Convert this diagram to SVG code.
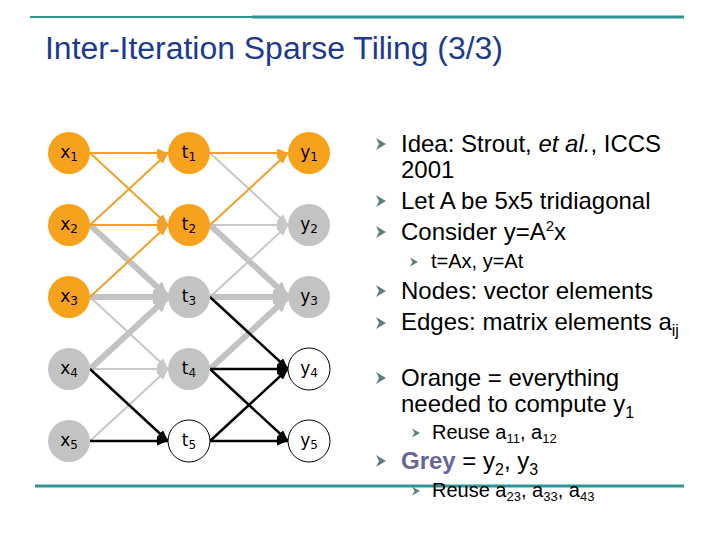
<svg xmlns="http://www.w3.org/2000/svg" xmlns:xlink="http://www.w3.org/1999/xlink" width="720" height="540" viewBox="0 0 720 540">
<style>
.rule{stroke:#2E9393;fill:none}
.title{font-family:"Liberation Sans",Arial,sans-serif;font-size:31px;fill:#1E3A8F}
.b{font-family:"Liberation Sans",Arial,sans-serif;font-size:24px;fill:#000}
.s{font-family:"Liberation Sans",Arial,sans-serif;font-size:20px;fill:#000}
.nl{font-family:"DejaVu Sans",Verdana,sans-serif;font-size:17px;fill:#000;text-anchor:middle}
.or{fill:#F7A21C}
.gr{fill:#C3C3C3}
.wh{fill:#FFF;stroke:#000;stroke-width:1}
.eo{stroke:#F2A02A;stroke-width:2;fill:none;marker-end:url(#ao)}
.eg{stroke:#C8C8C8;stroke-width:2;fill:none;marker-end:url(#ag)}
.eG{stroke:#C3C3C3;stroke-width:6;fill:none;marker-end:url(#aG)}
.ek{stroke:#000;stroke-width:2.5;fill:none;marker-end:url(#ak)}
.bul{fill:#5E7F7F}
</style>
<defs>
<marker id="ao" markerUnits="userSpaceOnUse" markerWidth="11" markerHeight="9" refX="11" refY="4.5" orient="auto"><path d="M0,0 L11,4.5 L0,9 z" fill="#F2A02A"/></marker>
<marker id="ag" markerUnits="userSpaceOnUse" markerWidth="11" markerHeight="9" refX="11" refY="4.5" orient="auto"><path d="M0,0 L11,4.5 L0,9 z" fill="#C8C8C8"/></marker>
<marker id="aG" markerUnits="userSpaceOnUse" markerWidth="15" markerHeight="15" refX="15" refY="7.5" orient="auto"><path d="M0,0 L15,7.5 L0,15 z" fill="#C3C3C3"/></marker>
<marker id="ak" markerUnits="userSpaceOnUse" markerWidth="11" markerHeight="9" refX="11" refY="4.5" orient="auto"><path d="M0,0 L11,4.5 L0,9 z" fill="#000"/></marker>
<path id="bl" d="M0,-6 L10,0 L0,6 L3,0 z"/>
<path id="bs" d="M0,-4.5 L8,0 L0,4.5 L2.5,0 z"/>
</defs>

<g id="rules">
<line class="rule" x1="30" y1="17" x2="252" y2="17" stroke-width="2"/>
<line class="rule" x1="252" y1="17" x2="684" y2="17" stroke-width="3"/>
<line class="rule" x1="35" y1="486" x2="684" y2="486" stroke-width="3"/>
</g>

<text class="title" x="45" y="59" textLength="458" lengthAdjust="spacingAndGlyphs">Inter-Iteration Sparse Tiling (3/3)</text>

<g id="connectors">
<path class="eg" d="M90,297 L168,369"/>
<path class="eg" d="M90,369 L168,369"/>
<path class="eg" d="M90,441 L168,369"/>
<path class="eg" d="M210,153 L288,225"/>
<path class="eg" d="M210,225 L288,225"/>
<path class="eg" d="M210,297 L288,225"/>
<path class="eG" d="M90,225 L168,297"/>
<path class="eG" d="M90,297 L168,297"/>
<path class="eG" d="M90,369 L168,297"/>
<path class="eG" d="M210,225 L288,297"/>
<path class="eG" d="M210,297 L288,297"/>
<path class="eG" d="M210,369 L288,297"/>
<path class="eo" d="M90,153 L168,153"/>
<path class="eo" d="M90,153 L168,225"/>
<path class="eo" d="M90,225 L168,153"/>
<path class="eo" d="M90,225 L168,225"/>
<path class="eo" d="M90,297 L168,225"/>
<path class="eo" d="M210,153 L288,153"/>
<path class="eo" d="M210,225 L288,153"/>
<path class="ek" d="M90,369 L168,441"/>
<path class="ek" d="M90,441 L168,441"/>
<path class="ek" d="M210,297 L288,369"/>
<path class="ek" d="M210,369 L288,369"/>
<path class="ek" d="M210,441 L288,369"/>
<path class="ek" d="M210,369 L288,441"/>
<path class="ek" d="M210,441 L288,441"/>
</g>

<g id="x1"><circle class="or" cx="69" cy="153" r="21"/><text class="nl" x="69" y="158">x<tspan font-size="12" dy="3">1</tspan></text></g>
<g id="x2"><circle class="or" cx="69" cy="225" r="21"/><text class="nl" x="69" y="230">x<tspan font-size="12" dy="3">2</tspan></text></g>
<g id="x3"><circle class="or" cx="69" cy="297" r="21"/><text class="nl" x="69" y="302">x<tspan font-size="12" dy="3">3</tspan></text></g>
<g id="x4"><circle class="gr" cx="69" cy="369" r="21"/><text class="nl" x="69" y="374">x<tspan font-size="12" dy="3">4</tspan></text></g>
<g id="x5"><circle class="gr" cx="69" cy="441" r="21"/><text class="nl" x="69" y="446">x<tspan font-size="12" dy="3">5</tspan></text></g>
<g id="t1"><circle class="or" cx="189" cy="153" r="21"/><text class="nl" x="189" y="158">t<tspan font-size="12" dy="3">1</tspan></text></g>
<g id="t2"><circle class="or" cx="189" cy="225" r="21"/><text class="nl" x="189" y="230">t<tspan font-size="12" dy="3">2</tspan></text></g>
<g id="t3"><circle class="gr" cx="189" cy="297" r="21"/><text class="nl" x="189" y="302">t<tspan font-size="12" dy="3">3</tspan></text></g>
<g id="t4"><circle class="gr" cx="189" cy="369" r="21"/><text class="nl" x="189" y="374">t<tspan font-size="12" dy="3">4</tspan></text></g>
<g id="t5"><circle class="wh" cx="189" cy="441" r="21"/><text class="nl" x="189" y="446">t<tspan font-size="12" dy="3">5</tspan></text></g>
<g id="y1"><circle class="or" cx="309" cy="153" r="21"/><text class="nl" x="309" y="158">y<tspan font-size="12" dy="3">1</tspan></text></g>
<g id="y2"><circle class="gr" cx="309" cy="225" r="21"/><text class="nl" x="309" y="230">y<tspan font-size="12" dy="3">2</tspan></text></g>
<g id="y3"><circle class="gr" cx="309" cy="297" r="21"/><text class="nl" x="309" y="302">y<tspan font-size="12" dy="3">3</tspan></text></g>
<g id="y4"><circle class="wh" cx="309" cy="369" r="21"/><text class="nl" x="309" y="374">y<tspan font-size="12" dy="3">4</tspan></text></g>
<g id="y5"><circle class="wh" cx="309" cy="441" r="21"/><text class="nl" x="309" y="446">y<tspan font-size="12" dy="3">5</tspan></text></g>

<g id="bullets">
<use xlink:href="#bl" class="bul" x="376" y="144"/>
<use xlink:href="#bl" class="bul" x="376" y="201"/>
<use xlink:href="#bl" class="bul" x="376" y="232"/>
<use xlink:href="#bs" class="bul" x="410" y="262"/>
<use xlink:href="#bl" class="bul" x="376" y="291"/>
<use xlink:href="#bl" class="bul" x="376" y="323"/>
<use xlink:href="#bl" class="bul" x="376" y="378"/>
<use xlink:href="#bs" class="bul" x="412" y="433"/>
<use xlink:href="#bl" class="bul" x="376" y="461"/>
<use xlink:href="#bs" class="bul" x="412" y="491"/>
<text class="b" x="401" y="152">Idea: Strout, <tspan font-style="italic">et al.</tspan>, ICCS</text>
<text class="b" x="401" y="178">2001</text>
<text class="b" x="401" y="209">Let A be 5x5 tridiagonal</text>
<text class="b" x="401" y="240">Consider y=A<tspan font-size="15" dy="-9">2</tspan><tspan dy="9">x</tspan></text>
<text class="s" x="431" y="268">t=Ax, y=At</text>
<text class="b" x="401" y="299">Nodes: vector elements</text>
<text class="b" x="401" y="330">Edges: matrix elements a<tspan font-size="16" dy="6">ij</tspan></text>
<text class="b" x="401" y="386">Orange = everything</text>
<text class="b" x="401" y="412">needed to compute y<tspan font-size="16" dy="6">1</tspan></text>
<text class="s" x="432" y="439">Reuse a<tspan font-size="13" dy="4">11</tspan><tspan dy="-4">, a</tspan><tspan font-size="13" dy="4">12</tspan></text>
<text class="b" x="401" y="469"><tspan font-weight="bold" fill="#666699">Grey</tspan> = y<tspan font-size="16" dy="6">2</tspan><tspan dy="-6">, y</tspan><tspan font-size="16" dy="6">3</tspan></text>
<text class="s" x="432" y="497">Reuse a<tspan font-size="13" dy="4">23</tspan><tspan dy="-4">, a</tspan><tspan font-size="13" dy="4">33</tspan><tspan dy="-4">, a</tspan><tspan font-size="13" dy="4">43</tspan></text>
</g>
</svg>
